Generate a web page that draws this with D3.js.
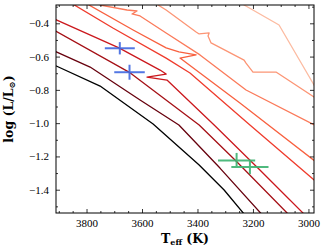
<!DOCTYPE html>
<html>
<head>
<meta charset="utf-8">
<script src="https://cdn.jsdelivr.net/npm/d3@7"></script>
<style>
  body { margin: 0; background: #fff; }
  svg { display: block; }
  .tick-label { font-family: "Liberation Serif", serif; font-size: 11px; fill: #000; }
  .axis-label { font-family: "DejaVu Serif", serif; font-size: 12.5px; font-weight: bold; fill: #000; }
</style>
</head>
<body>
<div id="chart"></div>
<script>
// isochrones, [Teff, log L] pairs, oldest first
var iso1 = [[3932, -0.639], [3751, -0.777], [3560, -1.005], [3394, -1.252], [3304, -1.402], [3211, -1.588]];
var iso2 = [[3932, -0.554], [3787, -0.663], [3607, -0.861], [3467, -1.011], [3319, -1.270], [3153, -1.576]];
var iso3 = [[3932, -0.428], [3647, -0.693], [3394, -1.011], [3261, -1.228], [3077, -1.540], [3059, -1.576]];
var iso4 = [[3932, -0.362], [3683, -0.548], [3535, -0.681], [3513, -0.705], [3582, -0.723], [3510, -0.741],
            [3340, -1.011], [3175, -1.282], [3009, -1.558]];
var iso5 = [[3874, -0.260], [3705, -0.428], [3513, -0.609], [3427, -0.699], [3211, -1.011], [2958, -1.372]];
var iso6 = [[3823, -0.260], [3632, -0.440], [3513, -0.548], [3467, -0.572], [3405, -0.590], [3463, -0.609],
            [3247, -0.879], [2958, -1.252]];
var iso7 = [[3769, -0.260], [3751, -0.290], [3654, -0.320], [3618, -0.326], [3636, -0.344], [3607, -0.356],
            [3513, -0.458], [3391, -0.590], [3225, -0.801], [2958, -1.029]];
var iso8 = [[3571, -0.260], [3513, -0.320], [3405, -0.452], [3394, -0.464], [3358, -0.458], [3362, -0.476],
            [3351, -0.518], [3232, -0.621], [3225, -0.639], [3200, -0.693], [3117, -0.693], [2958, -0.867]];
var iso9 = [[3247, -0.260], [3232, -0.290], [3106, -0.410], [2980, -0.771], [2951, -0.855]];

var isochrones = [iso1, iso2, iso3, iso4, iso5, iso6, iso7, iso8, iso9];
var isoColors = ["#000000", "#67000d", "#a50f15", "#cb181d", "#ef3b2c", "#f8603f", "#fb7a5a", "#fc9575", "#fcbba1"];

// stars with error bars: Teff, log L, dTeff, dlogL
var blueStars = [[3680, -0.55, 54, 0.037], [3645, -0.694, 55, 0.045]];
var greenStars = [[3259, -1.224, 67, 0.045], [3211, -1.264, 67, 0.042]];

var xTicks = [3800, 3600, 3400, 3200, 3000];
var yTicks = [-1.4, -1.2, -1.0, -0.8, -0.6, -0.4];

var W = 332, H = 249;
var margin = { top: 5, right: 18, bottom: 36, left: 56 };
var width = W - margin.left - margin.right;
var height = H - margin.top - margin.bottom;

var svg = d3.select("#chart").append("svg")
    .attr("width", W)
    .attr("height", H);

var x = d3.scaleLinear().domain([3910, 2980]).range([0, width]);
var y = d3.scaleLinear().domain([-1.54, -0.29]).range([height, 0]);

svg.append("defs").append("clipPath").attr("id", "clip")
    .append("rect").attr("width", width).attr("height", height);

var g = svg.append("g").attr("transform", `translate(${margin.left},${margin.top})`);
var plot = g.append("g").attr("clip-path", "url(#clip)");

var line = d3.line()
    .x(d => x(d[0]))
    .y(d => y(d[1]));

plot.selectAll("path.iso")
    .data(isochrones)
    .enter()
    .append("path")
    .attr("class", "iso")
    .attr("d", line)
    .attr("fill", "none")
    .attr("stroke", (d, i) => isoColors[i])
    .attr("stroke-width", 1.3)
    .attr("stroke-linejoin", "round");

function drawCrosses(data, color) {
    var c = plot.append("g").attr("stroke", color).attr("stroke-width", 2).attr("opacity", 0.9);
    c.selectAll("line.h").data(data).enter().append("line")
        .attr("x1", d => x(d[0] + d[2])).attr("x2", d => x(d[0] - d[2]))
        .attr("y1", d => y(d[1])).attr("y2", d => y(d[1]));
    c.selectAll("line.v").data(data).enter().append("line")
        .attr("x1", d => x(d[0])).attr("x2", d => x(d[0]))
        .attr("y1", d => y(d[1] - d[3])).attr("y2", d => y(d[1] + d[3]));
}
drawCrosses(blueStars, "#4169e1");
drawCrosses(greenStars, "#3cb371");

// axes: ticks inward on all four sides
var xMinor = d3.range(3000, 3901, 50).filter(v => v % 200 != 0);
var yMinor = [-1.5, -1.3, -1.1, -0.9, -0.7, -0.5, -0.3];

function axisStyle(sel) {
    sel.select(".domain").remove();
    sel.selectAll(".tick line").attr("stroke", "#000").attr("stroke-width", 0.8);
}

g.append("g").attr("transform", `translate(0,${height})`)
    .call(d3.axisBottom(x).tickValues(xTicks).tickSize(-4).tickPadding(6).tickFormat(d3.format("d")))
    .call(axisStyle)
    .selectAll("text").attr("class", "tick-label").attr("font-family", null).attr("font-size", null);
g.append("g").attr("transform", `translate(0,${height})`)
    .call(d3.axisBottom(x).tickValues(xMinor).tickSize(-2).tickFormat(""))
    .call(axisStyle);
g.append("g")
    .call(d3.axisTop(x).tickValues(xTicks).tickSize(-4).tickFormat(""))
    .call(axisStyle);
g.append("g")
    .call(d3.axisTop(x).tickValues(xMinor).tickSize(-2).tickFormat(""))
    .call(axisStyle);

g.append("g")
    .call(d3.axisLeft(y).tickValues(yTicks).tickSize(-4).tickPadding(7).tickFormat(d3.format(".1f")))
    .call(axisStyle)
    .selectAll("text").attr("class", "tick-label").attr("font-family", null).attr("font-size", null);
g.append("g")
    .call(d3.axisLeft(y).tickValues(yMinor).tickSize(-2).tickFormat(""))
    .call(axisStyle);
g.append("g").attr("transform", `translate(${width},0)`)
    .call(d3.axisRight(y).tickValues(yTicks).tickSize(-4).tickFormat(""))
    .call(axisStyle);
g.append("g").attr("transform", `translate(${width},0)`)
    .call(d3.axisRight(y).tickValues(yMinor).tickSize(-2).tickFormat(""))
    .call(axisStyle);

g.append("rect")
    .attr("width", width).attr("height", height)
    .attr("fill", "none").attr("stroke", "#000").attr("stroke-width", 1);

// axis labels
var xl = svg.append("text").attr("class", "axis-label")
    .attr("x", margin.left + width / 2).attr("y", 243)
    .attr("text-anchor", "middle");
xl.append("tspan").text("T");
xl.append("tspan").attr("baseline-shift", "-25%").attr("font-size", "8px").text("eff");
xl.append("tspan").text(" (K)");

var yl = svg.append("text").attr("class", "axis-label")
    .attr("transform", `translate(13,${margin.top + height / 2}) rotate(-90)`)
    .attr("text-anchor", "middle");
yl.append("tspan").text("log (L/L");
yl.append("tspan").attr("baseline-shift", "-25%").attr("font-size", "8.5px").text("\u2299");
yl.append("tspan").text(")");
</script>
</body>
</html>
